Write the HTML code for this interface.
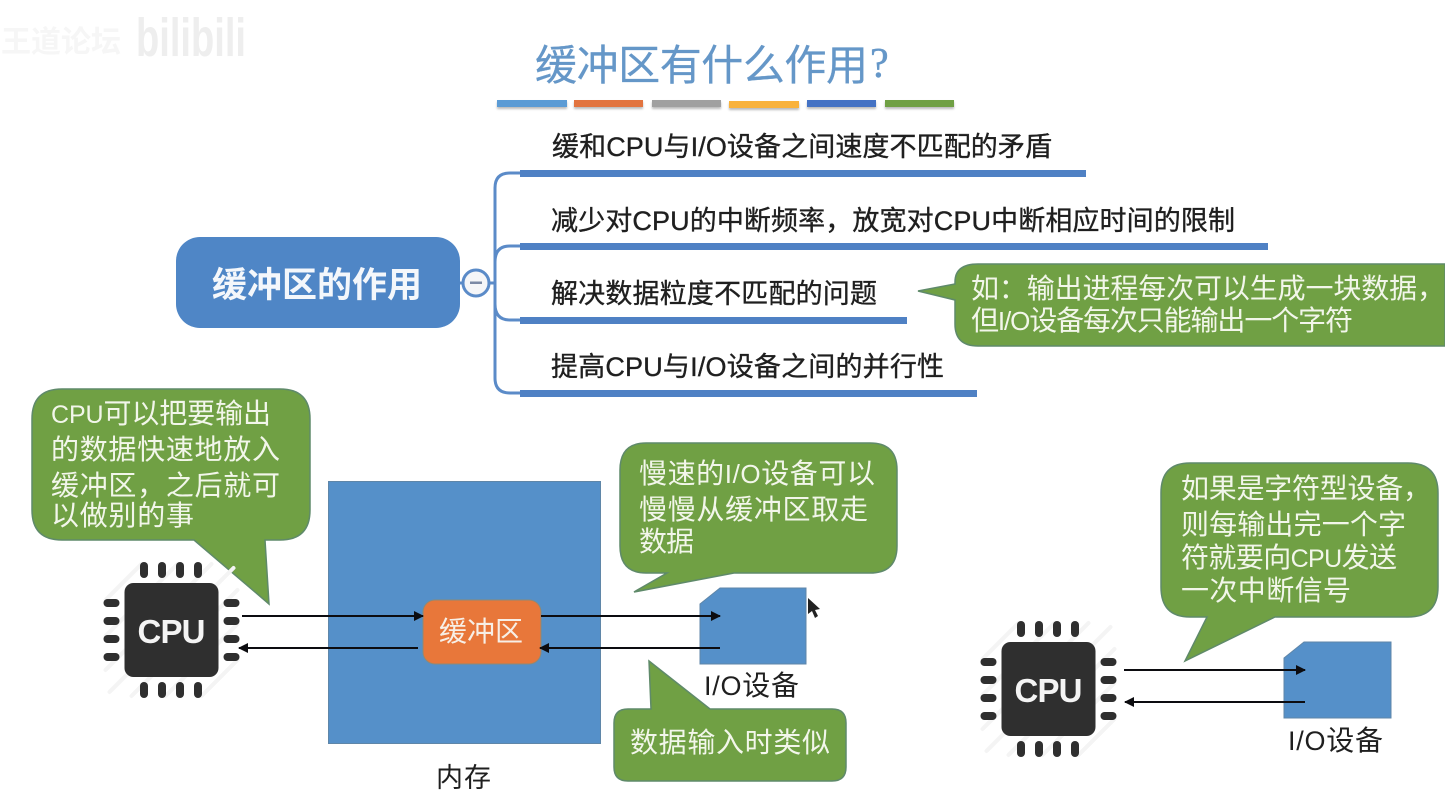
<!DOCTYPE html>
<html><head><meta charset="utf-8"><style>
html,body{margin:0;padding:0;background:#fff}
svg{display:block}
text{font-family:"Liberation Sans","Noto Sans CJK SC",sans-serif}
</style></head><body>
<svg width="1445" height="796" viewBox="0 0 1445 796" xmlns="http://www.w3.org/2000/svg">
<defs>
<filter id="b" x="-10%" y="-100%" width="120%" height="300%"><feGaussianBlur stdDeviation="1"/></filter>
<marker id="ar" viewBox="0 0 10 10" refX="9" refY="5" markerWidth="10" markerHeight="10" markerUnits="userSpaceOnUse" orient="auto"><path d="M0 0L10 5L0 10Z" fill="#0c0c10"/></marker>
<g id="cpu">
<g stroke="#f4f4f4" stroke-width="4" fill="none" stroke-linecap="round">
<path d="M-66 -30L-30 -66M-66 6L6 -66M-66 40L40 -66M-62 62L62 -62M-40 66L66 -40M-6 66L66 -6M30 66L66 30"/>
</g>
<rect x="-47" y="-47" width="94" height="94" rx="9" fill="#2f2f2f"/>
<g fill="#2f2f2f">
<rect x="-31.500" y="-68" width="8" height="16" rx="4"/><rect x="-13.500" y="-68" width="8" height="16" rx="4"/><rect x="4.500" y="-68" width="8" height="16" rx="4"/><rect x="22.500" y="-68" width="8" height="16" rx="4"/>
<rect x="-31.500" y="52" width="8" height="16" rx="4"/><rect x="-13.500" y="52" width="8" height="16" rx="4"/><rect x="4.500" y="52" width="8" height="16" rx="4"/><rect x="22.500" y="52" width="8" height="16" rx="4"/>
<rect x="-68" y="-31" width="16" height="8" rx="4"/><rect x="-68" y="-13" width="16" height="8" rx="4"/><rect x="-68" y="5" width="16" height="8" rx="4"/><rect x="-68" y="23" width="16" height="8" rx="4"/>
<rect x="52" y="-31" width="16" height="8" rx="4"/><rect x="52" y="-13" width="16" height="8" rx="4"/><rect x="52" y="5" width="16" height="8" rx="4"/><rect x="52" y="23" width="16" height="8" rx="4"/>
</g>
<text x="0" y="13" text-anchor="middle" font-size="33" font-weight="bold" fill="#f4f4f4" textLength="68">CPU</text>
</g>
</defs>

<rect width="1445" height="796" fill="#ffffff"/>

<!-- watermark -->
<text x="1" y="52" font-size="30" font-weight="bold" fill="#f6f6f6" textLength="120">王道论坛</text>
<text x="136" y="56" font-size="54" font-weight="bold" fill="#eeeeee" textLength="110" lengthAdjust="spacingAndGlyphs">bilibili</text>

<!-- title -->
<text x="535" y="80" font-size="42" fill="#6597c8" stroke="#6597c8" stroke-width=".3" textLength="333">缓冲区有什么作用</text>
<text x="870" y="77" font-size="42" fill="#6597c8" stroke="#6597c8" stroke-width=".5" style="font-family:'Liberation Serif',serif">?</text>
<g filter="url(#b)" opacity=".4" fill="#555">
<rect x="497" y="102" width="70" height="7"/><rect x="574" y="102" width="69" height="7"/><rect x="652" y="102" width="69" height="7"/><rect x="729" y="103" width="70" height="7"/><rect x="807" y="102" width="69" height="7"/><rect x="885" y="102" width="69" height="7"/>
</g>
<rect x="497" y="100" width="70" height="7" fill="#5b9bd5"/>
<rect x="574" y="100" width="69" height="7" fill="#e2743f"/>
<rect x="652" y="100" width="69" height="7" fill="#a0a0a0"/>
<rect x="729" y="101" width="70" height="7" fill="#f9b23c"/>
<rect x="807" y="100" width="69" height="7" fill="#4472c4"/>
<rect x="885" y="100" width="69" height="7" fill="#70a044"/>

<!-- mind map -->
<rect x="176" y="237" width="284" height="91" rx="24" fill="#4f86c6"/>
<text x="212" y="297" font-size="35" font-weight="bold" fill="#f4f7fb" textLength="210">缓冲区的作用</text>
<g fill="none" stroke="#5b8bc8" stroke-width="3">
<path d="M460 283H496"/>
<path d="M520 173H510Q495 173 495 188V378Q495 393 510 393H520"/>
<path d="M495 262Q495 246 510 246H520"/>
<path d="M495 304Q495 320 510 320H520"/>
</g>
<circle cx="476" cy="283" r="13" fill="#f5f6f8" stroke="#5b8bc8" stroke-width="3"/>
<rect x="470" y="281.500" width="12" height="2.500" fill="#7c8aa5"/>
<g fill="#4f81c4">
<rect x="520" y="170" width="566" height="7"/>
<rect x="520" y="243" width="748" height="7"/>
<rect x="520" y="317" width="387" height="7"/>
<rect x="520" y="390" width="457" height="7"/>
</g>
<g font-size="27" fill="#1f1f1f" stroke="#1f1f1f" stroke-width=".35">
<text x="552" y="156" textLength="500">缓和CPU与I/O设备之间速度不匹配的矛盾</text>
<text x="551" y="230" textLength="684">减少对CPU的中断频率，放宽对CPU中断相应时间的限制</text>
<text x="551" y="303" textLength="326">解决数据粒度不匹配的问题</text>
<text x="551" y="376" textLength="393">提高CPU与I/O设备之间的并行性</text>
</g>

<!-- callout top right -->
<path d="M1445 264H978Q955 264 955 282V284L918 291L955 300V324Q955 346 978 346H1445Z" fill="#70a044" stroke="#5f8a6a" stroke-width="1.500"/>
<g font-size="28" fill="#f2f6ea">
<text x="971" y="298" textLength="474">如：输出进程每次可以生成一块数据，</text>
<text x="971" y="330" textLength="382">但<tspan font-size="26">I/O</tspan>设备每次只能输出一个字符</text>
</g>

<!-- callout CPU -->
<path d="M62 389H280Q310 389 310 419V510Q310 540 280 540H265L269 604L194 540H62Q32 540 32 510V419Q32 389 62 389Z" fill="#70a044" stroke="#5f8a6a" stroke-width="1.500"/>
<g font-size="28" fill="#f2f6ea">
<text x="51" y="423" textLength="220"><tspan font-size="25">CPU</tspan>可以把要输出</text>
<text x="51" y="459" textLength="229">的数据快速地放入</text>
<text x="51" y="495" textLength="229">缓冲区，之后就可</text>
<text x="51" y="525" textLength="143">以做别的事</text>
</g>

<!-- memory -->
<rect x="328.500" y="481.500" width="272" height="262" fill="#5590c9" stroke="#5f86a8" stroke-width="1"/>
<text x="436" y="787" font-size="27" fill="#1f1f1f" textLength="55">内存</text>
<rect x="423" y="600" width="118" height="64" rx="12" fill="#e8773a" stroke="#8c8a78" stroke-width="1"/>
<text x="439" y="641" font-size="28" fill="#f7efe6" textLength="84">缓冲区</text>

<!-- IO left -->
<path d="M720 588H806V664H700V604Z" fill="#5590c9" stroke="#5f86a8" stroke-width="1"/>
<text x="704" y="695" font-size="28" fill="#1f1f1f" textLength="95"><tspan font-size="27">I/O</tspan>设备</text>

<!-- CPUs -->
<use href="#cpu" x="171.500" y="630"/>
<use href="#cpu" x="1048.500" y="689"/>

<!-- arrows left -->
<g stroke="#0c0c10" stroke-width="2" fill="none">
<line x1="242" y1="616" x2="423" y2="616" marker-end="url(#ar)"/>
<line x1="418" y1="648" x2="239" y2="648" marker-end="url(#ar)"/>
<line x1="541" y1="616" x2="720" y2="616" marker-end="url(#ar)"/>
<line x1="720" y1="648" x2="540" y2="648" marker-end="url(#ar)"/>
</g>

<!-- callout slow IO -->
<path d="M646 443H870Q897 443 897 470V546Q897 573 870 573H734L634 592L667 573H646Q620 573 620 546V470Q620 443 646 443Z" fill="#70a044" stroke="#5f8a6a" stroke-width="1.500"/>
<g font-size="28" fill="#f2f6ea">
<text x="639" y="483" textLength="236">慢速的<tspan font-size="26">I/O</tspan>设备可以</text>
<text x="639" y="519" textLength="229">慢慢从缓冲区取走</text>
<text x="639" y="551" textLength="55">数据</text>
</g>

<!-- callout input -->
<path d="M628 709H651L649 661L710 709H832Q846 709 846 723V767Q846 781 832 781H628Q614 781 614 767V723Q614 709 628 709Z" fill="#70a044" stroke="#5f8a6a" stroke-width="1.500"/>
<text x="630" y="752" font-size="28" fill="#f2f6ea" textLength="200">数据输入时类似</text>

<!-- right side -->
<path d="M1284 658L1304 642H1391V718H1284Z" fill="#5590c9" stroke="#5f86a8" stroke-width="1"/>
<g stroke="#0c0c10" stroke-width="2" fill="none">
<line x1="1124" y1="670" x2="1305" y2="670" marker-end="url(#ar)"/>
<line x1="1305" y1="702" x2="1125" y2="702" marker-end="url(#ar)"/>
</g>
<text x="1288" y="750" font-size="28" fill="#1f1f1f" textLength="95"><tspan font-size="27">I/O</tspan>设备</text>

<path d="M1190 463H1408Q1438 463 1438 493V587Q1438 617 1408 617H1275L1185 661L1207 617H1190Q1161 617 1161 587V493Q1161 463 1190 463Z" fill="#70a044" stroke="#5f8a6a" stroke-width="1.500"/>
<g font-size="28" fill="#f2f6ea">
<text x="1181" y="498" textLength="250">如果是字符型设备，</text>
<text x="1181" y="534" textLength="225">则每输出完一个字</text>
<text x="1181" y="567" textLength="216">符就要向<tspan font-size="25">CPU</tspan>发送</text>
<text x="1181" y="600" textLength="170">一次中断信号</text>
</g>

<!-- mouse cursor -->
<path d="M808 598V614L812 611L815 618L818 616L815 610L820 609Z" fill="#222"/>
</svg>
</body></html>
